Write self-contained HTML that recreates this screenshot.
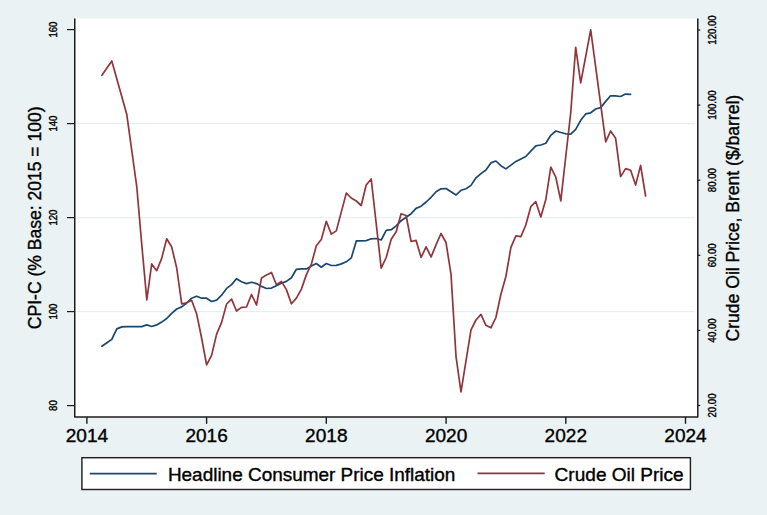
<!DOCTYPE html>
<html><head><meta charset="utf-8"><style>
html,body{margin:0;padding:0;background:#eaf2f3;}
svg{display:block;}
text{font-family:"Liberation Sans",Arial,sans-serif;fill:#000;stroke:#000;stroke-width:0.35px;}
.tk{font-size:9.6px;text-anchor:middle;}
.big{font-size:17.6px;text-anchor:middle;}
.st{text-anchor:start;}
</style></head><body>
<svg width="767" height="515" viewBox="0 0 767 515">
<rect width="767" height="515" fill="#eaf2f3"/>
<rect x="74.75" y="18.6" width="623.05" height="398.29999999999995" fill="#fff"/>
<line x1="77" x2="695" y1="311.6" y2="311.6" stroke="#e6eff1" stroke-width="1.2"/>
<line x1="77" x2="695" y1="217.6" y2="217.6" stroke="#e6eff1" stroke-width="1.2"/>
<line x1="77" x2="695" y1="123.6" y2="123.6" stroke="#e6eff1" stroke-width="1.2"/>
<polyline points="101.9,346.2 106.9,342.8 111.8,339.4 116.8,328.9 121.8,326.9 126.8,326.6 131.8,326.6 136.8,326.6 141.8,326.6 146.8,324.9 151.7,326.5 156.7,324.9 161.7,322.1 166.7,318.5 171.7,313.3 176.7,309.0 181.7,306.9 186.7,303.0 191.6,298.2 196.6,296.2 201.6,298.2 206.6,298.2 211.6,301.5 216.6,300.1 221.6,295.2 226.6,288.4 231.6,284.6 236.5,278.7 241.5,281.7 246.5,283.6 251.5,282.2 256.5,283.6 261.5,286.4 266.5,288.5 271.5,288.1 276.4,285.7 281.4,283.2 286.4,281.4 291.4,277.8 296.4,269.3 301.4,268.9 306.4,268.9 311.4,266.1 316.3,263.5 321.3,267.2 326.3,263.5 331.3,265.5 336.3,265.4 341.3,263.9 346.3,261.8 351.3,257.9 356.3,240.9 361.2,240.9 366.2,240.6 371.2,238.8 376.2,238.5 381.2,240.0 386.2,230.4 391.2,229.7 396.2,225.9 401.1,220.7 406.1,217.3 411.1,213.7 416.1,208.4 421.1,206.2 426.1,202.0 431.1,197.3 436.1,191.7 441.0,188.8 446.0,188.5 451.0,191.7 456.0,195.0 461.0,190.3 466.0,188.8 471.0,185.4 476.0,177.8 481.0,173.6 485.9,170.0 490.9,162.9 495.9,161.0 500.9,165.7 505.9,168.9 510.9,165.1 515.9,161.4 520.9,158.9 525.8,156.5 530.8,151.2 535.8,145.9 540.8,145.0 545.8,143.3 550.8,135.3 555.8,131.0 560.8,132.5 565.7,133.8 570.7,134.2 575.7,129.3 580.7,120.3 585.7,113.9 590.7,112.8 595.7,109.0 600.7,107.6 605.7,101.4 610.6,95.8 615.6,95.8 620.6,96.5 625.6,94.1 630.6,94.4" fill="none" stroke="#1a476f" stroke-width="1.7" stroke-linejoin="round" stroke-linecap="round"/>
<polyline points="101.9,75.3 111.8,60.9 126.8,114.6 136.8,187.0 141.8,245.0 146.8,299.8 151.7,263.9 156.7,270.7 161.7,258.4 166.7,238.8 171.7,247.0 176.7,268.0 181.7,303.9 186.7,302.8 191.6,300.3 196.6,313.7 201.6,338.0 206.6,364.8 211.6,355.4 216.6,334.1 221.6,322.4 226.6,304.0 231.6,299.1 236.5,311.0 241.5,307.4 246.5,307.0 251.5,294.5 256.5,305.0 261.5,277.9 266.5,275.1 271.5,272.5 276.4,284.7 281.4,281.4 286.4,289.6 291.4,303.8 296.4,298.1 301.4,289.1 306.4,274.6 311.4,264.0 316.3,245.8 321.3,239.4 326.3,221.3 331.3,234.1 336.3,230.9 346.3,193.1 351.3,198.0 356.3,201.0 361.2,205.5 366.2,185.0 371.2,179.0 381.2,268.2 386.2,257.5 391.2,239.3 396.2,231.8 401.1,213.7 406.1,215.5 411.1,241.5 416.1,240.4 421.1,257.4 426.1,246.8 431.1,257.0 436.1,244.6 441.0,233.5 446.0,242.5 451.0,274.1 456.0,356.3 461.0,391.9 471.0,329.9 476.0,320.0 481.0,314.4 485.9,325.3 490.9,327.8 495.9,317.5 500.9,294.3 505.9,276.5 510.9,247.4 515.9,235.8 520.9,236.6 525.8,225.0 530.8,206.7 535.8,201.7 540.8,216.9 545.8,199.6 550.8,167.1 555.8,177.2 560.8,200.9 565.7,157.0 570.7,113.0 575.7,47.3 580.7,82.9 590.7,29.8 605.7,141.9 610.6,131.0 615.6,138.2 620.6,176.6 625.6,168.6 630.6,170.3 635.6,185.1 640.6,165.4 645.6,196.0" fill="none" stroke="#90353b" stroke-width="1.7" stroke-linejoin="round" stroke-linecap="round"/>
<path d="M74.75,18.6 V416.9 H697.8 V18.6" fill="none" stroke="#1c1c1c" stroke-width="1.5" stroke-linejoin="round"/>
<line x1="67" x2="74.75" y1="405.6" y2="405.6" stroke="#1c1c1c" stroke-width="1.2"/>
<text transform="translate(56.9,405.6) scale(1.083,1) rotate(-90)" class="tk">80</text>
<line x1="67" x2="74.75" y1="311.6" y2="311.6" stroke="#1c1c1c" stroke-width="1.2"/>
<text transform="translate(56.9,311.6) scale(1.083,1) rotate(-90)" class="tk">100</text>
<line x1="67" x2="74.75" y1="217.6" y2="217.6" stroke="#1c1c1c" stroke-width="1.2"/>
<text transform="translate(56.9,217.6) scale(1.083,1) rotate(-90)" class="tk">120</text>
<line x1="67" x2="74.75" y1="123.6" y2="123.6" stroke="#1c1c1c" stroke-width="1.2"/>
<text transform="translate(56.9,123.6) scale(1.083,1) rotate(-90)" class="tk">140</text>
<line x1="67" x2="74.75" y1="29.6" y2="29.6" stroke="#1c1c1c" stroke-width="1.2"/>
<text transform="translate(56.9,29.6) scale(1.083,1) rotate(-90)" class="tk">160</text>
<line x1="697.8" x2="700.3" y1="405.5" y2="405.5" stroke="#1c1c1c" stroke-width="1.2"/>
<text transform="translate(715.5,405.5) scale(1.083,1) rotate(-90)" class="tk">20.00</text>
<line x1="697.8" x2="700.3" y1="330.4" y2="330.4" stroke="#1c1c1c" stroke-width="1.2"/>
<text transform="translate(715.5,330.4) scale(1.083,1) rotate(-90)" class="tk">40.00</text>
<line x1="697.8" x2="700.3" y1="255.3" y2="255.3" stroke="#1c1c1c" stroke-width="1.2"/>
<text transform="translate(715.5,255.3) scale(1.083,1) rotate(-90)" class="tk">60.00</text>
<line x1="697.8" x2="700.3" y1="180.2" y2="180.2" stroke="#1c1c1c" stroke-width="1.2"/>
<text transform="translate(715.5,180.2) scale(1.083,1) rotate(-90)" class="tk">80.00</text>
<line x1="697.8" x2="700.3" y1="105.1" y2="105.1" stroke="#1c1c1c" stroke-width="1.2"/>
<text transform="translate(715.5,105.1) scale(1.083,1) rotate(-90)" class="tk">100.00</text>
<line x1="697.8" x2="700.3" y1="30.0" y2="30.0" stroke="#1c1c1c" stroke-width="1.2"/>
<text transform="translate(715.5,30.0) scale(1.083,1) rotate(-90)" class="tk">120.00</text>
<line x1="86.9" x2="86.9" y1="416.9" y2="423.8" stroke="#1c1c1c" stroke-width="1.4"/>
<text transform="translate(86.9,442) scale(1.083,1)" class="big">2014</text>
<line x1="206.6" x2="206.6" y1="416.9" y2="423.8" stroke="#1c1c1c" stroke-width="1.4"/>
<text transform="translate(206.6,442) scale(1.083,1)" class="big">2016</text>
<line x1="326.3" x2="326.3" y1="416.9" y2="423.8" stroke="#1c1c1c" stroke-width="1.4"/>
<text transform="translate(326.3,442) scale(1.083,1)" class="big">2018</text>
<line x1="446.1" x2="446.1" y1="416.9" y2="423.8" stroke="#1c1c1c" stroke-width="1.4"/>
<text transform="translate(446.1,442) scale(1.083,1)" class="big">2020</text>
<line x1="565.8" x2="565.8" y1="416.9" y2="423.8" stroke="#1c1c1c" stroke-width="1.4"/>
<text transform="translate(565.8,442) scale(1.083,1)" class="big">2022</text>
<line x1="685.5" x2="685.5" y1="416.9" y2="423.8" stroke="#1c1c1c" stroke-width="1.4"/>
<text transform="translate(685.5,442) scale(1.083,1)" class="big">2024</text>
<text transform="translate(41.25,217.8) scale(1.083,1) rotate(-90)" class="big" style="font-size:17.55px">CPI-C (% Base: 2015 = 100)</text>
<text transform="translate(739.3,218.1) scale(1.083,1) rotate(-90)" class="big" style="font-size:17.55px">Crude Oil Price, Brent ($/barrel)</text>
<rect x="81.9" y="457.7" width="608.5" height="31.8" fill="#fff" stroke="#222" stroke-width="1.45"/>
<line x1="89.8" x2="156.7" y1="473.7" y2="473.7" stroke="#1a476f" stroke-width="1.7"/>
<line x1="477.5" x2="544.7" y1="473.4" y2="473.4" stroke="#90353b" stroke-width="1.7"/>
<text transform="translate(167.9,481.1) scale(1.083,1)" class="big st" style="font-size:17.5px">Headline Consumer Price Inflation</text>
<text transform="translate(554.6,481.1) scale(1.083,1)" class="big st">Crude Oil Price</text>
</svg>
</body></html>
